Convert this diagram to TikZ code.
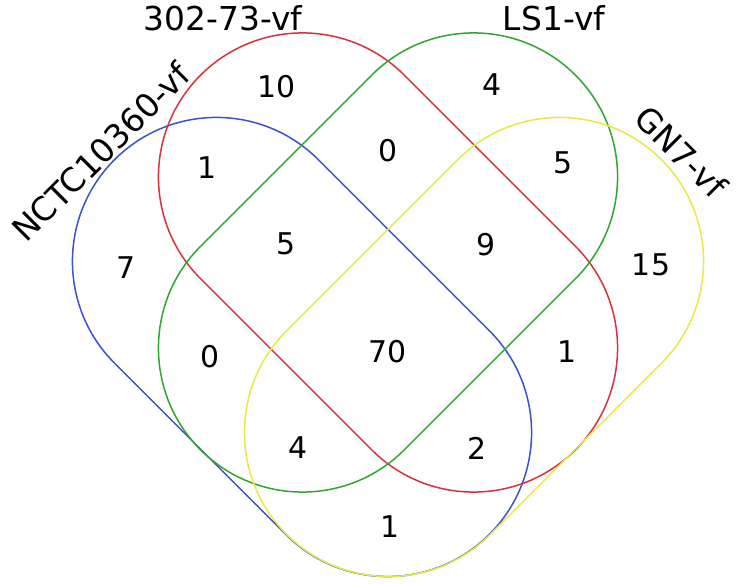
\documentclass[tikz,border=0pt]{standalone}
\usepackage{fontspec}
\setmainfont{DejaVu Sans}
\usetikzlibrary{shapes.misc}
\definecolor{vennred}{RGB}{218,48,58}
\definecolor{venngreen}{RGB}{48,165,48}
\definecolor{vennblue}{RGB}{58,82,205}
\definecolor{vennyellow}{RGB}{232,232,70}
\begin{document}
\begin{tikzpicture}[x=1bp,y=1bp]
\tikzstyle{set}=[rounded rectangle,draw,line width=1.5bp,inner sep=0pt,outer sep=0pt,minimum width=530bp,minimum height=288bp]
\tikzstyle{count}=[font=\fontsize{30}{36}\selectfont]
\tikzstyle{setname}=[font=\fontsize{33}{40}\selectfont]
\useasboundingbox (0,0) rectangle (738,584);
\node[set,draw=vennblue,rotate=-45] (nctc) at (302,237) {};
\node[set,draw=vennred,rotate=-45] (strain) at (388,321.5) {};
\node[set,draw=venngreen,rotate=45] (ls) at (388,321.5) {};
\node[set,draw=vennyellow,rotate=45] (gn) at (474,237) {};

\node[setname] (nctcname) at (101,432) [rotate=45] {NCTC10360-vf};
\node[setname] (strainname) at (223,566) {302-73-vf};
\node[setname] (lsname) at (554,566) {LS1-vf};
\node[setname] (gnname) at (681,432) [rotate=-45] {GN7-vf};

\node[count] (c1) at (277,497) {10};
\node[count] (c2) at (492,499) {4};
\node[count] (c3) at (388,433) {0};
\node[count] (c4) at (207,416) {1};
\node[count] (c5) at (563,421) {5};
\node[count] (c6) at (126,316) {7};
\node[count] (c7) at (286,340) {5};
\node[count] (c8) at (486,339) {9};
\node[count] (c9) at (651,319) {15};
\node[count] (c10) at (210,227) {0};
\node[count] (c11) at (388,232) {70};
\node[count] (c12) at (567,232) {1};
\node[count] (c13) at (298,136) {4};
\node[count] (c14) at (477,136) {2};
\node[count] (c15) at (390,57) {1};
\end{tikzpicture}
\end{document}
